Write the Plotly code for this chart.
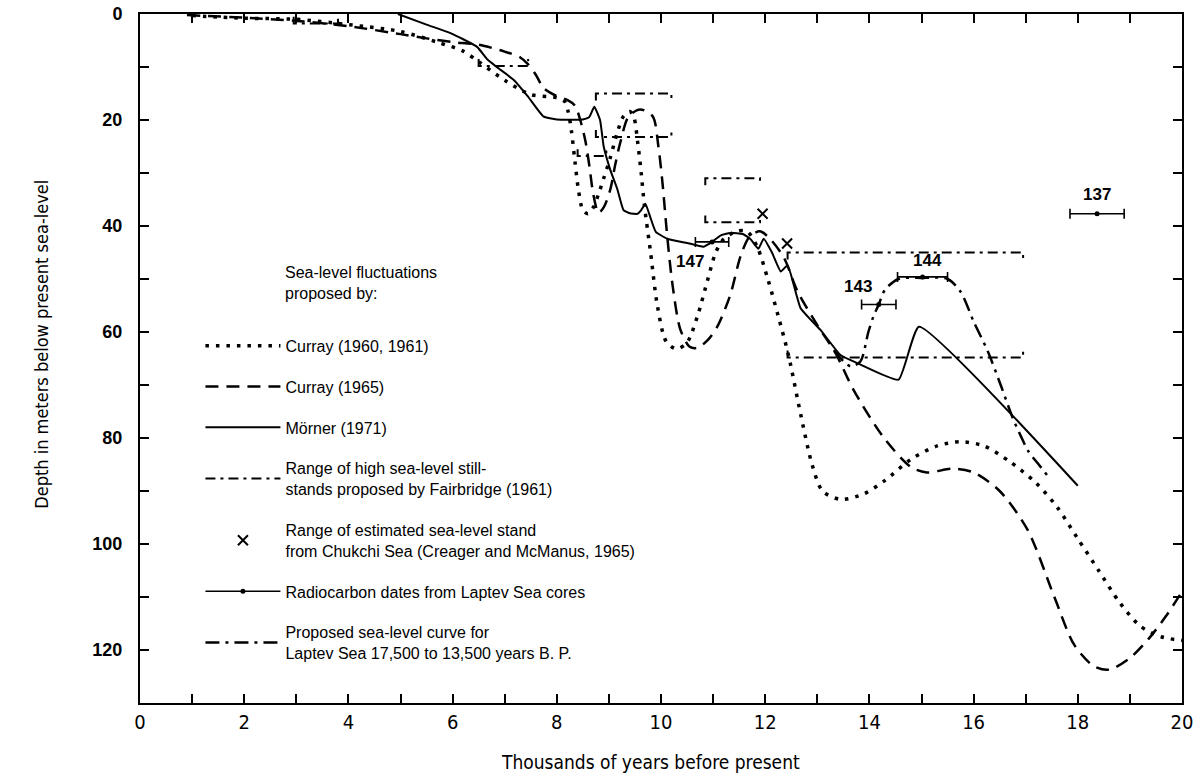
import plotly.graph_objects as go

# ---------------- data ----------------
# Curray (1960, 1961) - dotted
c60_x = [1.0, 2.0, 3.0, 4.0, 5.0, 5.7, 6.2, 6.5, 7.0, 7.5, 8.0, 8.15, 8.22, 8.28, 8.35, 8.42, 8.5, 8.6, 8.7,
         8.8, 8.9, 9.03, 9.16, 9.28, 9.4, 9.48, 9.55, 9.62, 9.68, 9.8, 9.93, 10.1, 10.3, 10.5, 10.7, 10.9,
         11.05, 11.2, 11.45, 11.65, 11.85, 12.05, 12.25, 12.45, 12.68, 12.9, 13.1, 13.45, 13.9, 14.3, 14.8,
         15.3, 15.75, 16.2, 16.7, 17.2, 17.6, 18.0, 18.4, 18.8, 19.2, 19.6, 20.0]
c60_y = [0.3, 0.8, 1.0, 2.0, 3.3, 5.3, 7.0, 9.0, 12.5, 15.2, 15.8, 16.5, 18.5, 22, 28, 33.5, 37, 37.7, 36.5,
         34, 31, 27, 22.4, 19.3, 18.4, 19.5, 24, 30, 36, 45, 55, 61.8, 63.2, 62, 57, 50,
         45, 42.5, 41, 41, 44, 50, 57, 64.5, 75.5, 85, 90, 91.6, 90.5, 88, 84,
         81.5, 80.7, 81.5, 84.5, 88.5, 93, 99, 105, 111, 115.5, 117.5, 118.2]

# Curray (1965) - dashed
c65_x = [0.9, 2.0, 3.0, 4.0, 5.0, 5.5, 6.0, 6.5, 7.0, 7.3, 7.45, 7.6, 7.75, 8.0, 8.2, 8.35, 8.45, 8.55, 8.63,
         8.7, 8.8, 8.9, 9.03, 9.12, 9.22, 9.38, 9.6, 9.84, 9.95, 10.03, 10.12, 10.22, 10.37, 10.55, 10.7,
         10.9, 11.08, 11.33, 11.53, 11.7, 11.9, 12.1, 12.36, 12.62, 13.0, 13.35, 13.7, 14.28, 14.8, 15.1,
         15.6, 16.0, 16.5, 17.04, 17.55, 17.93, 18.3, 18.6, 19.0, 19.35, 19.7, 20.0]
c65_y = [0.2, 0.7, 1.3, 2.3, 3.8, 4.6, 5.3, 5.8, 7.1, 8.2, 9.5, 11.5, 14, 15.5, 16.2, 17.3, 20, 24, 29,
         34, 37.5, 36.5, 33, 28.5, 24.2, 19.3, 18, 19.3, 25, 32, 42, 51, 59.5, 62.8, 63,
         61.5, 59, 53, 45.6, 42, 41, 42.5, 46, 52.3, 58.7, 64, 71, 80, 85.5, 86.5,
         85.8, 86.5, 90, 97.4, 110, 119, 123, 123.7, 121.5, 118, 113.5, 109]

# Morner (1971) - solid
m_x = [4.95, 5.5, 5.96, 6.47, 6.67, 6.86, 7.17, 7.44, 7.74, 8.0, 8.5, 8.62, 8.72, 8.83, 8.9, 9.03, 9.16,
       9.28, 9.4, 9.55, 9.62, 9.7, 9.8, 9.9, 10.12, 10.5, 10.82, 10.98, 11.14, 11.33, 11.57, 11.72, 11.87,
       11.97, 12.13, 12.3, 12.43, 12.68, 13.06, 13.45, 13.8, 14.56, 14.95, 18.0]
m_y = [0, 2, 3.6, 6.2, 8.6, 10.1, 12.4, 15.5, 19.3, 19.9, 19.9, 19.5, 17.5, 20, 25, 29.5, 33,
       37, 37.6, 37.7, 37, 35.8, 38.5, 41.1, 42.4, 43.2, 43.9, 43, 41.8, 41.3, 41.5, 42.5, 44.3,
       42.4, 45, 48.6, 47.4, 55.5, 59.6, 64.4, 66, 69, 59, 89]

# Fairbridge (1961) ranges of high still-stands (None = line not drawn)
f_x0 = [2.95, 6.5, 8.4, 8.75, 10.85, 12.43]
f_x1 = [3.8, 7.45, 8.95, 10.2, 11.9, 16.95]
f_top = [None, None, None, 15.0, 31.0, 45.0]
f_bot = [1.8, 9.8, 26.8, 23.2, 39.3, 64.8]

# Chukchi Sea estimates (Creager and McManus, 1965)
ch_x = [11.95, 12.42]
ch_y = [37.7, 43.3]

# Radiocarbon dates from Laptev Sea cores
rc_x = [10.98, 14.18, 15.02, 18.37]
rc_y = [43.0, 54.8, 49.6, 37.7]
rc_err = [0.32, 0.33, 0.48, 0.52]
rc_label = ["147", "143", "144", "137"]

# Proposed Laptev Sea curve
l_x = [13.32, 13.5, 13.65, 13.83, 13.98, 14.08, 14.18, 14.3, 14.56, 15.0, 15.5, 15.75, 16.0, 16.27,
       16.52, 16.75, 16.9, 17.05, 17.25, 17.45]
l_y = [63.4, 65.5, 66.5, 65.5, 60, 57, 54.8, 52, 50, 49.8, 50, 52.4, 58, 63.6,
       70, 76.2, 79.5, 82.5, 85, 87.5]

# label offsets (pixels) for the radiocarbon numbers
rc_xshift = [-22, -21, 5, 0]
rc_yshift = [-20, 18, 16, 19]

# ---------------- figure ----------------
BLACK = "black"
LEG_FONT = "Liberation Sans, Arial, sans-serif"
NARROW = "Liberation Sans Narrow, DejaVu Sans Condensed, Arial Narrow, sans-serif"

fig = go.Figure()

fig.add_trace(go.Scatter(
    x=c60_x, y=c60_y, mode="lines", name="Curray (1960, 1961)", legendgroup="a",
    line=dict(color=BLACK, width=3.5, dash="3.5px,7px", shape="spline", smoothing=0.8)))

fig.add_trace(go.Scatter(
    x=c65_x, y=c65_y, mode="lines", name="Curray (1965)", legendgroup="b",
    line=dict(color=BLACK, width=2.5, dash="13px,8px", shape="spline", smoothing=0.8)))

fig.add_trace(go.Scatter(
    x=m_x, y=m_y, mode="lines", name="Mörner (1971)", legendgroup="c",
    line=dict(color=BLACK, width=2, shape="spline", smoothing=0.4)))

# bracket paths for Fairbridge ranges
tick = 1.3
fx, fy = [], []
for x0, x1, top, bot in zip(f_x0, f_x1, f_top, f_bot):
    if top is not None:
        fx += [x0, x0, x1, x1, None]
        fy += [top + tick, top, top, top + tick, None]
    if bot is not None:
        fx += [x0, x0, x1, x1, None]
        fy += [bot - tick, bot, bot, bot - tick, None]
fig.add_trace(go.Scatter(
    x=fx, y=fy, mode="lines", legendgroup="d",
    name="Range of high sea-level still-<br>stands proposed by Fairbridge (1961)",
    line=dict(color=BLACK, width=2, dash="10px,5px,3px,5px")))

fig.add_trace(go.Scatter(
    x=ch_x, y=ch_y, mode="markers", legendgroup="e",
    name="Range of estimated sea-level stand<br>from Chukchi Sea (Creager and McManus, 1965)",
    marker=dict(symbol="x-thin-open", size=10, color=BLACK, line=dict(color=BLACK, width=2))))

# radiocarbon dates: points separated so no connecting line is drawn
rx, ry, re = [], [], []
for i, (a, b, e) in enumerate(zip(rc_x, rc_y, rc_err)):
    if i:
        rx.append(None); ry.append(None); re.append(None)
    rx.append(a); ry.append(b); re.append(e)
fig.add_trace(go.Scatter(
    x=rx, y=ry, mode="lines+markers", connectgaps=False, legendgroup="f",
    name="Radiocarbon dates from Laptev Sea cores",
    line=dict(color=BLACK, width=1.5),
    marker=dict(symbol="circle", size=5, color=BLACK),
    error_x=dict(type="data", array=re, symmetric=True, color=BLACK, thickness=1.6, width=5)))

fig.add_trace(go.Scatter(
    x=l_x, y=l_y, mode="lines", legendgroup="g",
    name="Proposed sea-level curve for<br>Laptev Sea 17,500 to 13,500 years B. P.",
    line=dict(color=BLACK, width=2.5, dash="14px,6px,3px,6px", shape="spline", smoothing=0.8)))

axis_common = dict(
    showline=True, linewidth=2, linecolor=BLACK, mirror="ticks", showgrid=False, zeroline=False,
    ticks="inside", ticklen=9, tickwidth=1.5, tickcolor=BLACK, automargin=False,
    ticklabeloverflow="allow")

annotations = [
    dict(text="Sea-level fluctuations<br>proposed by:", xref="paper", yref="paper",
         x=0.137, y=0.61, xanchor="left", yanchor="middle", showarrow=False, align="left",
         font=dict(family=LEG_FONT, size=16, color=BLACK)),
    dict(text="Depth in meters below present sea-level", xref="paper", yref="paper",
         x=-0.106, y=0.52, textangle=-90, showarrow=False,
         font=dict(family=NARROW, size=18, color=BLACK)),
    dict(text="Thousands of years before present", xref="paper", yref="paper",
         x=0.49, y=-0.085, yanchor="middle", showarrow=False,
         font=dict(family=NARROW, size=19, color=BLACK)),
]
for lx, ly, lt, dx, dy in zip(rc_x, rc_y, rc_label, rc_xshift, rc_yshift):
    annotations.append(dict(x=lx, y=ly, xref="x", yref="y", text="<b>%s</b>" % lt, showarrow=False,
                            xshift=dx, yshift=dy,
                            font=dict(family=LEG_FONT, size=17, color=BLACK)))

fig.update_layout(
    width=1196, height=773,
    margin=dict(l=140, r=14, t=14, b=70),
    paper_bgcolor="white", plot_bgcolor="white",
    xaxis=dict(range=[0, 20], dtick=2, tick0=0,
               minor=dict(dtick=1, ticks="inside", ticklen=9, tickwidth=1.5, tickcolor=BLACK),
               tickfont=dict(family=NARROW, size=20, color=BLACK),
               **axis_common),
    yaxis=dict(range=[130, 0], dtick=20, tick0=0,
               minor=dict(dtick=10, ticks="inside", ticklen=9, tickwidth=1.5, tickcolor=BLACK),
               tickfont=dict(family=LEG_FONT, size=18, color=BLACK, weight="bold"),
               ticklabelstandoff=12,
               **axis_common),
    showlegend=True,
    legend=dict(x=0.058, y=0.543, xanchor="left", yanchor="top", bgcolor="rgba(0,0,0,0)",
                font=dict(family=LEG_FONT, size=16, color=BLACK),
                itemwidth=75, traceorder="grouped", tracegroupgap=17),
    annotations=annotations,
)

fig.write_html("out.html", config={"displayModeBar": False},
               post_script="document.body.style.margin='0px';")
